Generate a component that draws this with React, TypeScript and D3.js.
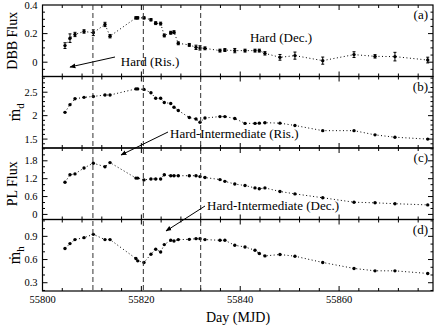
import React from 'react';
import * as d3 from 'd3';

// observation days (MJD)
const mjd = [55804.55, 55805.56, 55806.57, 55808.4, 55810.28, 55812.64, 55813.66, 55818.9, 55819.26, 55820.53,
  55821.94, 55822.9, 55823.9, 55824.64, 55825.94, 55826.6, 55827.47, 55829.7, 55831.05, 55831.86,
  55832.87, 55835.9, 55836.9, 55838.9, 55840.97, 55842.99, 55843.86, 55845.0, 55848.04, 55851.07,
  55856.69, 55863.02, 55867.27, 55871.3, 55877.93];

const dbbFlux = [0.116, 0.168, 0.194, 0.215, 0.206, 0.264, 0.182, 0.31, 0.31, 0.31,
  0.297, 0.273, 0.27, 0.187, 0.206, 0.21, 0.132, 0.121, 0.104, 0.1,
  0.097, 0.081, 0.085, 0.081, 0.081, 0.081, 0.081, 0.062, 0.034, 0.046,
  0.011, 0.053, 0.041, 0.039, 0.015];
const dbbErr = [0.02, 0.03, 0.015, 0.012, 0.02, 0.015, 0.012, 0.008, 0.008, 0.008,
  0.008, 0.01, 0.01, 0.01, 0.01, 0.01, 0.01, 0.01, 0.015, 0.015,
  0.01, 0.01, 0.01, 0.015, 0.01, 0.01, 0.01, 0.012, 0.02, 0.025,
  0.025, 0.02, 0.012, 0.03, 0.02];

const mdotD = [2.07, 2.235, 2.36, 2.39, 2.41, 2.44, 2.44, 2.57, 2.57, 2.56,
  2.49, 2.37, 2.37, 2.28, 2.26, 2.18, 2.11, 1.96, 1.93, 1.86,
  1.95, 1.98, 1.98, 1.94, 1.835, 1.835, 1.84, 1.85, 1.84, 1.79,
  1.68, 1.68, 1.59, 1.54, 1.5];

const plFlux = [1.08, 1.33, 1.36, 1.56, 1.72, 1.6, 1.74, 1.22, 1.22, 1.16,
  1.19, 1.19, 1.19, 1.33, 1.3, 1.3, 1.3, 1.3, 1.3, 1.27,
  1.24, 1.17, 1.11, 1.02, 0.97, 0.89, 0.86, 0.89, 0.77, 0.69,
  0.56, 0.41, 0.39, 0.36, 0.32];

const mdotH = [0.742, 0.806, 0.858, 0.883, 0.926, 0.858, 0.858, 0.613, 0.583, 0.562,
  0.669, 0.733, 0.698, 0.793, 0.849, 0.84, 0.858, 0.861, 0.87, 0.87,
  0.858, 0.849, 0.849, 0.784, 0.763, 0.72, 0.678, 0.647, 0.665, 0.643,
  0.562, 0.485, 0.454, 0.454, 0.42];

const stateDays = [55810.2, 55820.4, 55832];
const xMajor = [55800, 55820, 55840, 55860];

const W = 436, H = 327;
const left = 42.5, right = 433, top = 5, bottom = 291;
const font = "'Liberation Serif', 'Times New Roman', Times, serif";

const panels = [
  { key: 'a', vals: dbbFlux, err: dbbErr, domain: [-0.1, 0.4], major: [0, 0.2, 0.4], minor: 0.05, fmt: (v: number) => v === 0 ? '0' : String(v), label: 'DBB Flux', sub: '' },
  { key: 'b', vals: mdotD, err: null, domain: [1.31, 2.835], major: [1.5, 2, 2.5], minor: 0.1, fmt: (v: number) => String(v), label: 'ṁ', sub: 'd' },
  { key: 'c', vals: plFlux, err: null, domain: [-0.17, 2.23], major: [0, 0.6, 1.2, 1.8], minor: 0.2, fmt: (v: number) => v === 0 ? '0' : v.toFixed(1), label: 'PL Flux', sub: '' },
  { key: 'd', vals: mdotH, err: null, domain: [0.193, 1.118], major: [0.3, 0.6, 0.9], minor: 0.1, fmt: (v: number) => v.toFixed(1), label: 'ṁ', sub: 'h' },
];

export default function App() {
  const x = d3.scaleLinear().domain([55800, 55879]).range([left, right]);
  const ph = (bottom - top) / panels.length;
  const xMinor = d3.range(55800, 55880, 4);

  return (
    <svg width={W} height={H} style={{ position: 'absolute', left: 0, top: 0, background: '#fff', fontFamily: font }}>
      {panels.map((p, i) => {
        const y0 = top + i * ph, y1 = y0 + ph;
        const y = d3.scaleLinear().domain(p.domain).range([y1, y0]);
        const minors = d3.range(Math.ceil(p.domain[0] / p.minor) * p.minor, p.domain[1], p.minor);
        const line = d3.line<number>().x((_, j) => x(mjd[j])).y(v => y(v));
        return (
          <g key={p.key}>
            {/* x ticks top and bottom */}
            {xMinor.map(t => {
              const L = xMajor.includes(t) ? 5 : 3;
              return (
                <g key={'xt' + t} stroke="#000" strokeWidth={1}>
                  <line x1={x(t)} x2={x(t)} y1={y1} y2={y1 - L} />
                  <line x1={x(t)} x2={x(t)} y1={y0} y2={y0 + L} />
                </g>
              );
            })}
            {/* y ticks left and right */}
            {minors.map(t => {
              const isMajor = p.major.some(m => Math.abs(m - t) < 1e-6);
              const L = isMajor ? 5 : 2.5;
              return (
                <g key={'yt' + t} stroke="#000" strokeWidth={1}>
                  <line x1={left} x2={left + L} y1={y(t)} y2={y(t)} />
                  <line x1={right} x2={right - L} y1={y(t)} y2={y(t)} />
                </g>
              );
            })}
            {p.major.map(t => (
              <text key={'yl' + t} x={left - 5} y={y(t)} dy="0.35em" textAnchor="end" fontSize={10.5}>{p.fmt(t)}</text>
            ))}
            <text transform={`translate(${p.sub ? 20 : 17},${(y0 + y1) / 2}) rotate(-90)`} textAnchor="middle" fontSize={p.sub ? 16 : 14}>
              {p.label}
              {p.sub && <tspan fontSize={11} dy={4}>{p.sub}</tspan>}
            </text>
            <path d={line(p.vals) || ''} fill="none" stroke="#000" strokeWidth={1} strokeDasharray="1,2.5" />
            {p.err && p.vals.map((v, j) => (
              <g key={'e' + j} stroke="#000" strokeWidth={1}>
                <line x1={x(mjd[j])} x2={x(mjd[j])} y1={y(v - p.err![j])} y2={y(v + p.err![j])} />
                <line x1={x(mjd[j]) - 1.5} x2={x(mjd[j]) + 1.5} y1={y(v - p.err![j])} y2={y(v - p.err![j])} />
                <line x1={x(mjd[j]) - 1.5} x2={x(mjd[j]) + 1.5} y1={y(v + p.err![j])} y2={y(v + p.err![j])} />
              </g>
            ))}
            {p.vals.map((v, j) => (
              <circle key={'p' + j} cx={x(mjd[j])} cy={y(v)} r={1.7} fill="#000" />
            ))}
            <rect x={left} y={y0} width={right - left} height={ph} fill="none" stroke="#000" strokeWidth={1.2} />
            <text x={right - 5} y={y0 + 14} textAnchor="end" fontSize={13}>({p.key})</text>
          </g>
        );
      })}

      {stateDays.map(d => (
        <line key={'s' + d} x1={x(d)} x2={x(d)} y1={top} y2={bottom} stroke="#333" strokeWidth={1} strokeDasharray="5,3" />
      ))}

      {xMajor.map(t => (
        <text key={'xl' + t} x={x(t)} y={303} textAnchor="middle" fontSize={10.5}>{t}</text>
      ))}
      <text x={238} y={322} textAnchor="middle" fontSize={14}>Day (MJD)</text>

      <defs>
        <marker id="arr" viewBox="0 0 10 10" refX="9" refY="5" markerWidth="6" markerHeight="6" orient="auto">
          <path d="M0,1 L10,5 L0,9 Z" fill="#000" />
        </marker>
      </defs>
      {/* state annotations */}
      <text x={150} y={66} textAnchor="middle" fontSize={13}>Hard (Ris.)</text>
      <line x1={115} y1={57} x2={70} y2={67} stroke="#000" strokeWidth={1} markerEnd="url(#arr)" />
      <text x={281} y={42} textAnchor="middle" fontSize={13}>Hard (Dec.)</text>
      <text x={170} y={138} fontSize={13}>Hard-Intermediate (Ris.)</text>
      <line x1={168} y1={132} x2={121} y2={155} stroke="#000" strokeWidth={1} markerEnd="url(#arr)" />
      <text x={207} y={210} fontSize={13}>Hard-Intermediate (Dec.)</text>
      <line x1={205} y1={206} x2={166} y2={231} stroke="#000" strokeWidth={1} markerEnd="url(#arr)" />
    </svg>
  );
}
